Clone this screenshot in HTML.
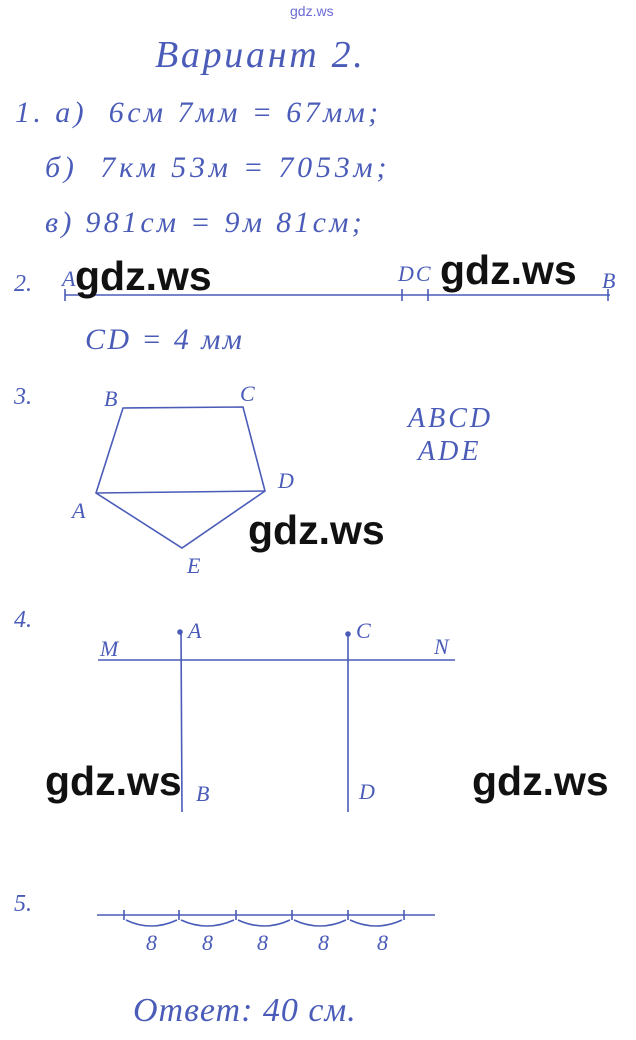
<!DOCTYPE html>
<html><head><meta charset="utf-8"><style>
body{margin:0;width:636px;height:1040px;background:#fff;position:relative;overflow:hidden;font-family:"Liberation Serif",serif;}
.t{position:absolute;color:#4a5cb8;font-style:italic;white-space:nowrap;line-height:1;}
.w{position:absolute;font-family:"Liberation Sans",sans-serif;font-weight:bold;font-size:40px;color:#111;line-height:1;}
</style></head><body>
<div class="t" style="left:290px;top:4px;font-size:14px;font-style:normal;font-family:'Liberation Sans',sans-serif;color:#6a6ad8">gdz.ws</div>
<div class="t" style="left:155px;top:36px;font-size:38px;letter-spacing:2.7px">Вариант 2.</div>
<div class="t" style="left:15px;top:98px;font-size:30px;letter-spacing:3.4px">1. а)&nbsp; 6см 7мм = 67мм;</div>
<div class="t" style="left:45px;top:153px;font-size:30px;letter-spacing:3.8px">б)&nbsp; 7км 53м = 7053м;</div>
<div class="t" style="left:45px;top:208px;font-size:30px;letter-spacing:3.3px">в) 981см = 9м 81см;</div>
<div class="t" style="left:14px;top:272px;font-size:24px">2.</div>
<div class="t" style="left:62px;top:268px;font-size:22px">A</div>
<div class="t" style="left:398px;top:263px;font-size:22px;letter-spacing:2px">DC</div>
<div class="t" style="left:602px;top:270px;font-size:22px">B</div>
<div class="t" style="left:85px;top:325px;font-size:30px;letter-spacing:2.4px">CD = 4 мм</div>
<div class="t" style="left:14px;top:385px;font-size:24px">3.</div>
<div class="t" style="left:104px;top:388px;font-size:22px">B</div>
<div class="t" style="left:240px;top:383px;font-size:22px">C</div>
<div class="t" style="left:278px;top:470px;font-size:22px">D</div>
<div class="t" style="left:72px;top:500px;font-size:22px">A</div>
<div class="t" style="left:187px;top:555px;font-size:22px">E</div>
<div class="t" style="left:408px;top:405px;font-size:28px;letter-spacing:3px">ABCD</div>
<div class="t" style="left:418px;top:438px;font-size:28px;letter-spacing:3px">ADE</div>
<div class="t" style="left:14px;top:608px;font-size:24px">4.</div>
<div class="t" style="left:100px;top:638px;font-size:22px">M</div>
<div class="t" style="left:188px;top:620px;font-size:22px">A</div>
<div class="t" style="left:356px;top:620px;font-size:22px">C</div>
<div class="t" style="left:434px;top:636px;font-size:22px">N</div>
<div class="t" style="left:196px;top:783px;font-size:22px">B</div>
<div class="t" style="left:359px;top:781px;font-size:22px">D</div>
<div class="t" style="left:14px;top:892px;font-size:24px">5.</div>
<div class="t" style="left:146px;top:932px;font-size:22px">8</div>
<div class="t" style="left:202px;top:932px;font-size:22px">8</div>
<div class="t" style="left:257px;top:932px;font-size:22px">8</div>
<div class="t" style="left:318px;top:932px;font-size:22px">8</div>
<div class="t" style="left:377px;top:932px;font-size:22px">8</div>
<div class="t" style="left:133px;top:994px;font-size:34px;letter-spacing:1px">Ответ: 40 см.</div>
<svg style="position:absolute;left:0;top:0" width="636" height="1040" fill="none" stroke="#4a5cb8" stroke-width="1.6">
<line x1="65" y1="295" x2="610" y2="295"/>
<line x1="65" y1="289" x2="65" y2="301"/><line x1="402" y1="289" x2="402" y2="301"/><line x1="428" y1="289" x2="428" y2="301"/><line x1="608" y1="289" x2="608" y2="301"/>
<polygon points="123,408 243,407 265,491 182,548 96,493"/>
<line x1="96" y1="493" x2="265" y2="491"/>
<line x1="98" y1="660" x2="455" y2="660"/>
<line x1="181" y1="630" x2="182" y2="812"/><line x1="348" y1="633" x2="348" y2="812"/>
<circle cx="180" cy="632" r="2" fill="#4a5cb8"/><circle cx="348" cy="634" r="2" fill="#4a5cb8"/>
<line x1="97" y1="915" x2="435" y2="915"/>
<g><line x1="124" y1="910" x2="124" y2="920"/><line x1="179" y1="910" x2="179" y2="920"/><line x1="236" y1="910" x2="236" y2="920"/><line x1="292" y1="910" x2="292" y2="920"/><line x1="348" y1="910" x2="348" y2="920"/><line x1="404" y1="910" x2="404" y2="920"/></g>
<path d="M126 920 Q151 932 177 920"/><path d="M181 920 Q207 932 234 920"/><path d="M238 920 Q264 932 290 920"/><path d="M294 920 Q320 932 346 920"/><path d="M350 920 Q376 932 402 920"/>
</svg>
<div class="w" style="left:75px;top:256px;font-size:41px">gdz.ws</div>
<div class="w" style="left:440px;top:250px;font-size:41px">gdz.ws</div>
<div class="w" style="left:248px;top:510px;font-size:41px">gdz.ws</div>
<div class="w" style="left:45px;top:761px;font-size:41px">gdz.ws</div>
<div class="w" style="left:472px;top:761px;font-size:41px">gdz.ws</div>
</body></html>
